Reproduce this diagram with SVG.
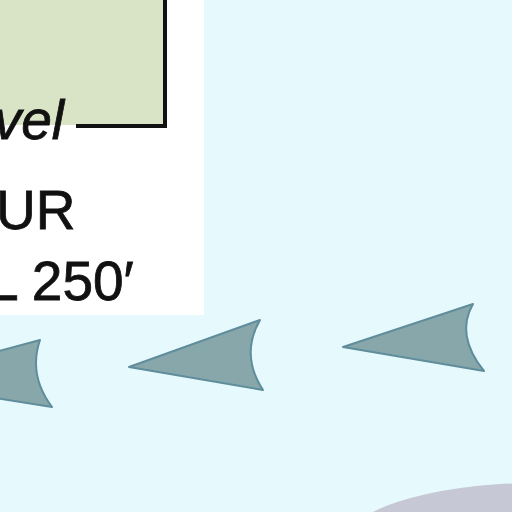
<svg xmlns="http://www.w3.org/2000/svg" width="512" height="512" viewBox="0 0 512 512">
<style>
.arrow{fill:#88a7ab;stroke:#5f8d9b;stroke-width:2;stroke-linejoin:round}
.lbl{font-family:"Liberation Sans",Arial,sans-serif;font-size:55px;fill:#111;stroke:#111;stroke-width:0.8}
</style>
<rect width="512" height="512" fill="#e6fafd"/>
<g id="panel">
<rect x="0" y="0" width="204" height="315" fill="#ffffff"/>
<rect x="0" y="0" width="165" height="125" fill="#d8e4c5"/>
<path d="M165 0 V126 H76" fill="none" stroke="#111" stroke-width="4"/>
<text class="lbl" x="64" y="139" text-anchor="end" font-style="italic" font-size="52">vel</text>
<text class="lbl" x="-4" y="229">UR</text>
<text class="lbl" x="-12" y="300">L 250′</text>
</g>
<g id="ground">
<ellipse cx="535" cy="548" rx="195" ry="65" fill="#c6c8d5"/>
</g>
<g id="arrows">
<path class="arrow" d="M40 340 Q28 375 52 407 L-5 398 L-5 352 Z"/>
<path class="arrow" d="M129 367 L260 320 Q240 355 263 390 Z"/>
<path class="arrow" d="M343 347 L473 304 Q455 335 484 371 Z"/>
</g>
</svg>
